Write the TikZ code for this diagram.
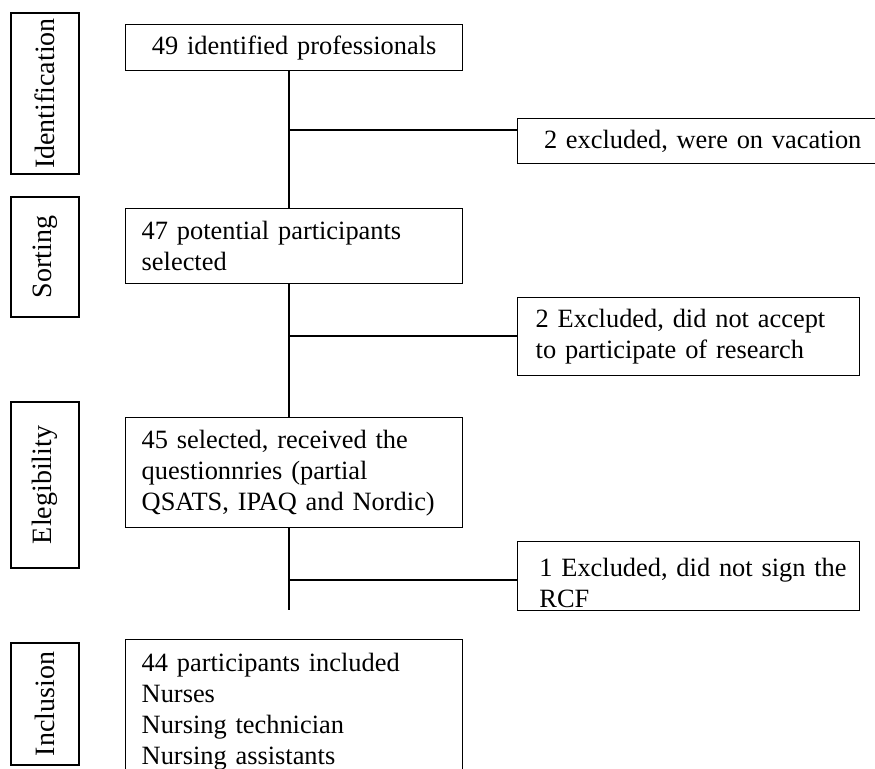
\documentclass[tikz,border=0pt]{standalone}
\usepackage{fontspec}
\setmainfont{Liberation Serif}
\begin{document}
\begin{tikzpicture}[x=0.5pt,y=-0.5pt]

        % Styles
        \tikzstyle{every node}=[font=\fontsize{13.2}{15.5}\selectfont]
        \tikzstyle{stage}=[draw, line width=0.7pt, rotate=90, minimum height=34pt, inner sep=0pt, font=\fontsize{14}{16}\selectfont]
        \tikzstyle{main box}=[draw, line width=0.7pt, anchor=north west, minimum width=168.5pt, text width=152.5pt, inner xsep=8pt, align=left]
        \tikzstyle{exclusion box}=[draw, line width=0.7pt, anchor=north west, minimum width=169pt, text width=153pt, inner xsep=9pt, align=left]
        \tikzstyle{flow}=[line width=0.7pt]
        %The graphic
        \clip (0,0) rectangle (875,769);
        \fill[white] (0,0) rectangle (875,769);
        %stages
        \node[stage, minimum width=80.5pt] (lident) at (45,93.5) {Identification};
        \node[stage, minimum width=60pt] (lsort) at (45,257) {Sorting};
        \node[stage, minimum width=83pt] (lelig) at (45,485) {Elegibility};
        \node[stage, minimum width=61pt] (lincl) at (45,704) {Inclusion};
        %flow boxes
        \node[main box, minimum height=23pt, align=center] (ident) at (125,24) {49 identified professionals};
        \node[main box, minimum height=37.5pt] (sort) at (125,208) {47 potential participants\\selected};
        \node[main box, minimum height=55pt] (elig) at (125,417) {45 selected, received the\\questionnries (partial\\QSATS, IPAQ and Nordic)};
        \node[main box, minimum height=71.5pt] (incl) at (125,639) {44 participants included\\Nurses\\Nursing technician\\Nursing assistants};
        %exclusions
        \node[exclusion box, minimum width=185pt, text width=167pt, minimum height=22.5pt, align=center] (excl1) at (517,118) {2 excluded, were on vacation};
        \node[exclusion box, minimum height=39pt] (excl2) at (517,297) {2 Excluded, did not accept\\to participate of research};
        \node[exclusion box, minimum height=34.5pt, path picture={
                \clip ([yshift=1.5pt]path picture bounding box.south west) rectangle (path picture bounding box.north east);
                \node[draw=none, anchor=north west, inner sep=0pt, text width=160pt, align=left] at ([xshift=6pt,yshift=-3pt]path picture bounding box.north west) {1 Excluded, did not sign the\\RCF};
            }] (excl3) at (517,541) {};
        %lines
        \coordinate (spine) at (289,0);
        \coordinate (b1) at (289,130);
        \coordinate (b2) at (289,336);
        \coordinate (b3) at (289,580);
        \coordinate (tail) at (289,610);
        \draw[flow] (ident.south -| spine) -- (sort.north -| spine);
        \draw[flow] (sort.south -| spine) -- (elig.north -| spine);
        \draw[flow] (elig.south -| spine) -- (tail);
        \draw[flow] (b1) -- (b1 -| excl1.west);
        \draw[flow] (b2) -- (b2 -| excl2.west);
        \draw[flow] (b3) -- (b3 -| excl3.west);
\end{tikzpicture}
\end{document}
